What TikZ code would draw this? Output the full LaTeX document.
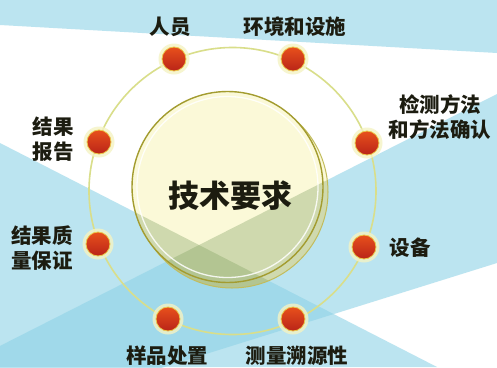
\documentclass[tikz,border=0pt]{standalone}
\usepackage{fontspec}
\newfontfamily\cjk{Noto Sans CJK SC}
\definecolor{bgb}{HTML}{8FD3E6}
\definecolor{ringc}{HTML}{D9DE8A}
\definecolor{haloc}{HTML}{F4F3C4}
\definecolor{dotTop}{HTML}{B92418}
\definecolor{dotBot}{HTML}{E8501C}
\definecolor{rimc}{HTML}{EBC84A}
\definecolor{txt}{HTML}{1C1C10}
\definecolor{cream}{HTML}{FBF9D8}
\definecolor{olive}{HTML}{A39C30}
\definecolor{oliveL}{HTML}{C2BC5C}
\definecolor{greenov}{HTML}{7FA060}
\begin{document}
\begin{tikzpicture}[x=1pt,y=-1pt,
  lbl/.style={font=\cjk\bfseries\fontsize{20.5}{24.5}\selectfont, text=txt, align=center, inner sep=0pt},
  halo/.style={circle, fill=haloc, fill opacity=0.8, minimum size=31pt, inner sep=0pt},
  dotn/.style={circle, minimum size=24pt, inner sep=0pt, top color=dotBot, bottom color=dotTop, draw=rimc, line width=0.8pt},
  band/.style={fill=bgb, fill opacity=0.6},
  gband/.style={fill=greenov, fill opacity=0.35}
]
\useasboundingbox (0,0) rectangle (497,367);
% background
\fill[white] (0,0) rectangle (497,367);
\begin{scope}
  \clip (0,0) rectangle (497,367);
  \fill[band] (0,0) -- (497,0) -- (497,53) -- (0,25) -- cycle;
  \fill[band] (0,143) -- (437,367) -- (0,367) -- cycle;
  \fill[band] (-373,535) -- (497,94) -- (497,263) -- cycle;
\end{scope}
% ring
\draw[ringc, line width=1.6pt] (232.5,191) circle (143.5pt);
% shadow disk
\fill[cream] (232,192) circle (96pt);
\begin{scope}
  \clip (232,192) circle (96pt);
  \fill[gband] (0,143) -- (437,367) -- (0,367) -- cycle;
  \fill[gband] (-373,535) -- (497,94) -- (497,263) -- cycle;
\end{scope}
\draw[oliveL, line width=1pt] (232,192) circle (96pt);
% main disk
\fill[cream] (227.5,187) circle (95.5pt);
\begin{scope}
  \clip (227.5,187) circle (95.5pt);
  \fill[gband] (0,143) -- (437,367) -- (0,367) -- cycle;
  \fill[gband] (-373,535) -- (497,94) -- (497,263) -- cycle;
\end{scope}
\draw[white, line width=1.3pt, opacity=0.85] (227.5,187) circle (90.5pt);
\draw[olive, line width=1.4pt] (227.5,187) circle (95.5pt);
\node[lbl, font=\cjk\bfseries\fontsize{31}{36}\selectfont] (core) at (230,196) {技术要求};
% dots
\foreach \n/\p in {a/{(174,59)}, b/{(293,59)}, c/{(367,143)}, d/{(364,247)}, e/{(293,319)}, f/{(168,319)}, g/{(98,244)}, h/{(99,142)}}{
  \node[halo] (halo\n) at \p {};
  \node[dotn] (dot\n) at \p {};
}
% labels
\node[lbl] (la) at (170,27) {人员};
\node[lbl] (lb) at (295,27) {环境和设施};
\node[lbl] (lc) at (440,117) {检测方法\\和方法确认};
\node[lbl] (ld) at (410,248) {设备};
\node[lbl] (le) at (297,356) {测量溯源性};
\node[lbl] (lf) at (167,356) {样品处置};
\node[lbl] (lg) at (42,248) {结果质\\量保证};
\node[lbl] (lh) at (53,139) {结果\\报告};
\end{tikzpicture}
\end{document}
